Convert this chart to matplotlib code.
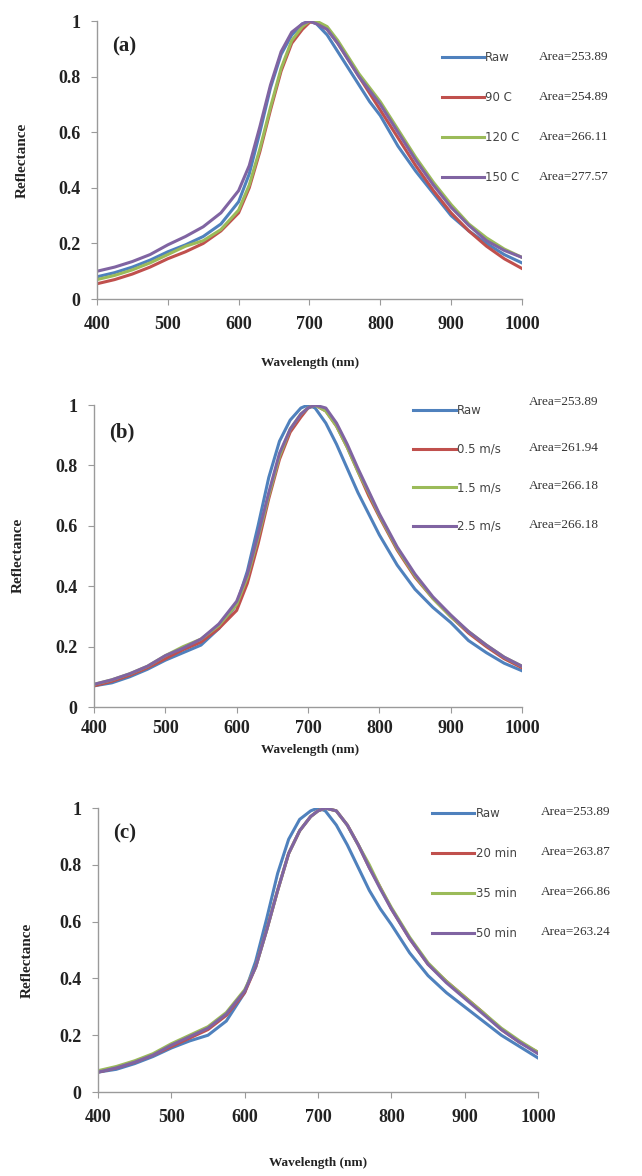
import matplotlib
matplotlib.use('Agg')
import matplotlib.pyplot as plt

# longueurs d'onde (nm)
wl = [400, 425, 450, 475, 500, 525, 550, 575, 600, 615, 630, 645, 660, 675, 690, 700,
      710, 725, 740, 755, 770, 785, 800, 825, 850, 875, 900, 925, 950, 975, 1000]

# (a) température
a_raw = [0.08, 0.095, 0.115, 0.14, 0.17, 0.195, 0.225, 0.27, 0.35, 0.45, 0.60, 0.76, 0.88, 0.95, 0.99, 1.0,
         0.99, 0.95, 0.89, 0.83, 0.77, 0.71, 0.66, 0.55, 0.46, 0.38, 0.30, 0.245, 0.20, 0.16, 0.13]
a_90 = [0.055, 0.07, 0.09, 0.115, 0.145, 0.17, 0.20, 0.245, 0.31, 0.40, 0.53, 0.68, 0.82, 0.92, 0.97, 0.995,
        1.0, 0.97, 0.92, 0.86, 0.80, 0.74, 0.68, 0.58, 0.48, 0.39, 0.31, 0.245, 0.19, 0.145, 0.11]
a_120 = [0.07, 0.085, 0.105, 0.13, 0.16, 0.19, 0.21, 0.25, 0.32, 0.41, 0.54, 0.69, 0.83, 0.93, 0.98, 1.0,
         1.0, 0.98, 0.93, 0.87, 0.81, 0.76, 0.71, 0.61, 0.51, 0.42, 0.34, 0.27, 0.22, 0.18, 0.15]
a_150 = [0.10, 0.115, 0.135, 0.16, 0.195, 0.225, 0.26, 0.31, 0.39, 0.48, 0.62, 0.77, 0.89, 0.96, 0.99, 1.0,
         0.99, 0.97, 0.92, 0.86, 0.80, 0.75, 0.70, 0.60, 0.50, 0.41, 0.33, 0.265, 0.21, 0.175, 0.15]

# (b) vitesse
b_raw = [0.07, 0.08, 0.10, 0.125, 0.155, 0.18, 0.205, 0.26, 0.34, 0.45, 0.60, 0.76, 0.88, 0.95, 0.99, 1.0,
         0.99, 0.94, 0.87, 0.79, 0.71, 0.64, 0.57, 0.47, 0.39, 0.33, 0.28, 0.22, 0.18, 0.145, 0.12]
b_05 = [0.07, 0.085, 0.105, 0.13, 0.16, 0.19, 0.215, 0.26, 0.32, 0.41, 0.54, 0.69, 0.82, 0.91, 0.96, 0.99,
        1.0, 0.98, 0.93, 0.86, 0.78, 0.70, 0.63, 0.52, 0.43, 0.36, 0.30, 0.245, 0.20, 0.16, 0.13]
b_15 = [0.075, 0.09, 0.11, 0.135, 0.17, 0.20, 0.225, 0.27, 0.34, 0.43, 0.56, 0.70, 0.83, 0.92, 0.97, 0.99,
        1.0, 0.98, 0.93, 0.86, 0.78, 0.71, 0.635, 0.525, 0.435, 0.36, 0.30, 0.25, 0.205, 0.165, 0.135]
b_25 = [0.075, 0.09, 0.11, 0.135, 0.17, 0.195, 0.225, 0.275, 0.35, 0.44, 0.57, 0.71, 0.84, 0.92, 0.97, 0.99,
        1.0, 0.99, 0.94, 0.87, 0.79, 0.715, 0.64, 0.53, 0.44, 0.365, 0.305, 0.25, 0.205, 0.165, 0.135]

# (c) durée
c_raw = [0.07, 0.08, 0.10, 0.125, 0.155, 0.18, 0.20, 0.25, 0.35, 0.46, 0.61, 0.77, 0.89, 0.96, 0.99, 1.0,
         0.99, 0.94, 0.87, 0.79, 0.71, 0.645, 0.59, 0.49, 0.41, 0.35, 0.30, 0.25, 0.20, 0.16, 0.12]
c_20 = [0.07, 0.085, 0.105, 0.13, 0.16, 0.19, 0.22, 0.27, 0.35, 0.44, 0.57, 0.71, 0.84, 0.92, 0.97, 0.99,
        1.0, 0.99, 0.94, 0.87, 0.79, 0.72, 0.645, 0.54, 0.45, 0.39, 0.335, 0.28, 0.22, 0.175, 0.14]
c_35 = [0.075, 0.09, 0.11, 0.135, 0.17, 0.20, 0.23, 0.28, 0.36, 0.44, 0.57, 0.71, 0.84, 0.92, 0.97, 0.99,
        1.0, 0.99, 0.94, 0.87, 0.80, 0.72, 0.65, 0.545, 0.455, 0.39, 0.335, 0.28, 0.225, 0.18, 0.14]
c_50 = [0.07, 0.085, 0.105, 0.13, 0.165, 0.195, 0.225, 0.275, 0.355, 0.44, 0.57, 0.71, 0.84, 0.92, 0.97, 0.99,
        1.0, 0.99, 0.94, 0.87, 0.79, 0.715, 0.645, 0.54, 0.45, 0.385, 0.33, 0.275, 0.22, 0.175, 0.135]

labels_a = ["Raw", "90 C", "120 C", "150 C"]
labels_b = ["Raw", "0.5 m/s", "1.5 m/s", "2.5 m/s"]
labels_c = ["Raw", "20 min", "35 min", "50 min"]
areas_a = ["Area=253.89", "Area=254.89", "Area=266.11", "Area=277.57"]
areas_b = ["Area=253.89", "Area=261.94", "Area=266.18", "Area=266.18"]
areas_c = ["Area=253.89", "Area=263.87", "Area=266.86", "Area=263.24"]

couleurs = ['#4F81BD', '#C0504D', '#9BBB59', '#8064A2']
serif = 'Liberation Serif'

fig = plt.figure(figsize=(6.42, 11.76), dpi=100)

panneaux = [
    dict(pos=[0.151, 0.7457, 0.662, 0.2364], series=[a_raw, a_90, a_120, a_150], labels=labels_a,
         areas=areas_a, tag="(a)", leg=(0.80, 0.908), lspace=2.29, area_x=1.04,
         area_y=[0.871, 0.727, 0.583, 0.439], xl=(0.483, 1 - 363 / 1176), yl=(0.034, 1 - 160 / 1176)),
    dict(pos=[0.1464, 0.3988, 0.6667, 0.2568], series=[b_raw, b_05, b_15, b_25], labels=labels_b,
         areas=areas_b, tag="(b)", leg=(0.735, 1.0185), lspace=2.16, area_x=1.016,
         area_y=[1.01, 0.859, 0.732, 0.604], xl=(0.483, 1 - 750 / 1176), yl=(0.028, 1 - 555 / 1176)),
    dict(pos=[0.1526, 0.0714, 0.6854, 0.2415], series=[c_raw, c_20, c_35, c_50], labels=labels_c,
         areas=areas_c, tag="(c)", leg=(0.748, 1.020), lspace=2.29, area_x=1.007,
         area_y=[0.986, 0.845, 0.704, 0.563], xl=(0.495, 1 - 1163 / 1176), yl=(0.043, 1 - 960 / 1176)),
]

for i, p in enumerate(panneaux):
    ax = fig.add_axes(p['pos'])
    for s, lab, c in zip(p['series'], p['labels'], couleurs):
        ax.plot(wl, s, color=c, lw=2.2, label=lab)
    ax.set_xlim(400, 1000)
    ax.set_ylim(0, 1)
    ax.set_xticks([400, 500, 600, 700, 800, 900, 1000])
    ax.set_yticks([0, 0.2, 0.4, 0.6, 0.8, 1])
    ax.set_yticklabels(["0", "0.2", "0.4", "0.6", "0.8", "1"])
    for sp in ['top', 'right']:
        ax.spines[sp].set_visible(False)
    for sp in ['left', 'bottom']:
        ax.spines[sp].set_color('#9a9a9a')
        ax.spines[sp].set_linewidth(1.0)
    ax.tick_params(direction='out', length=4, color='#9a9a9a', pad=8)
    if i == 1:
        ax.tick_params(axis='x', pad=5)
    for t in ax.get_xticklabels() + ax.get_yticklabels():
        t.set_fontfamily(serif)
        t.set_fontweight('bold')
        t.set_fontsize(13)
        t.set_color('#222222')
    ax.text(0.035, 0.91, p['tag'], transform=ax.transAxes, fontsize=15, fontweight='bold',
            family=serif, va='center', color='#222222')
    leg = ax.legend(loc='upper left', bbox_to_anchor=p['leg'], frameon=False, fontsize=8.5,
                    handlelength=3.6, handletextpad=0.1, labelspacing=p['lspace'], borderaxespad=0)
    for t in leg.get_texts():
        t.set_color('#444444')
    for ay, txt in zip(p['area_y'], p['areas']):
        ax.text(p['area_x'], ay, txt, transform=ax.transAxes, fontsize=9.5, family=serif,
                va='center', ha='left', clip_on=False, color='#333333')
    fig.text(p['xl'][0], p['xl'][1], "Wavelength (nm)", family=serif, fontweight='bold',
             fontsize=9.5, ha='center', va='center', color='#222222')
    fig.text(p['yl'][0], p['yl'][1], "Reflectance", family=serif, fontweight='bold',
             fontsize=11, ha='center', va='center', rotation=90, color='#222222')

plt.savefig("out.png", dpi=100)
plt.close()
